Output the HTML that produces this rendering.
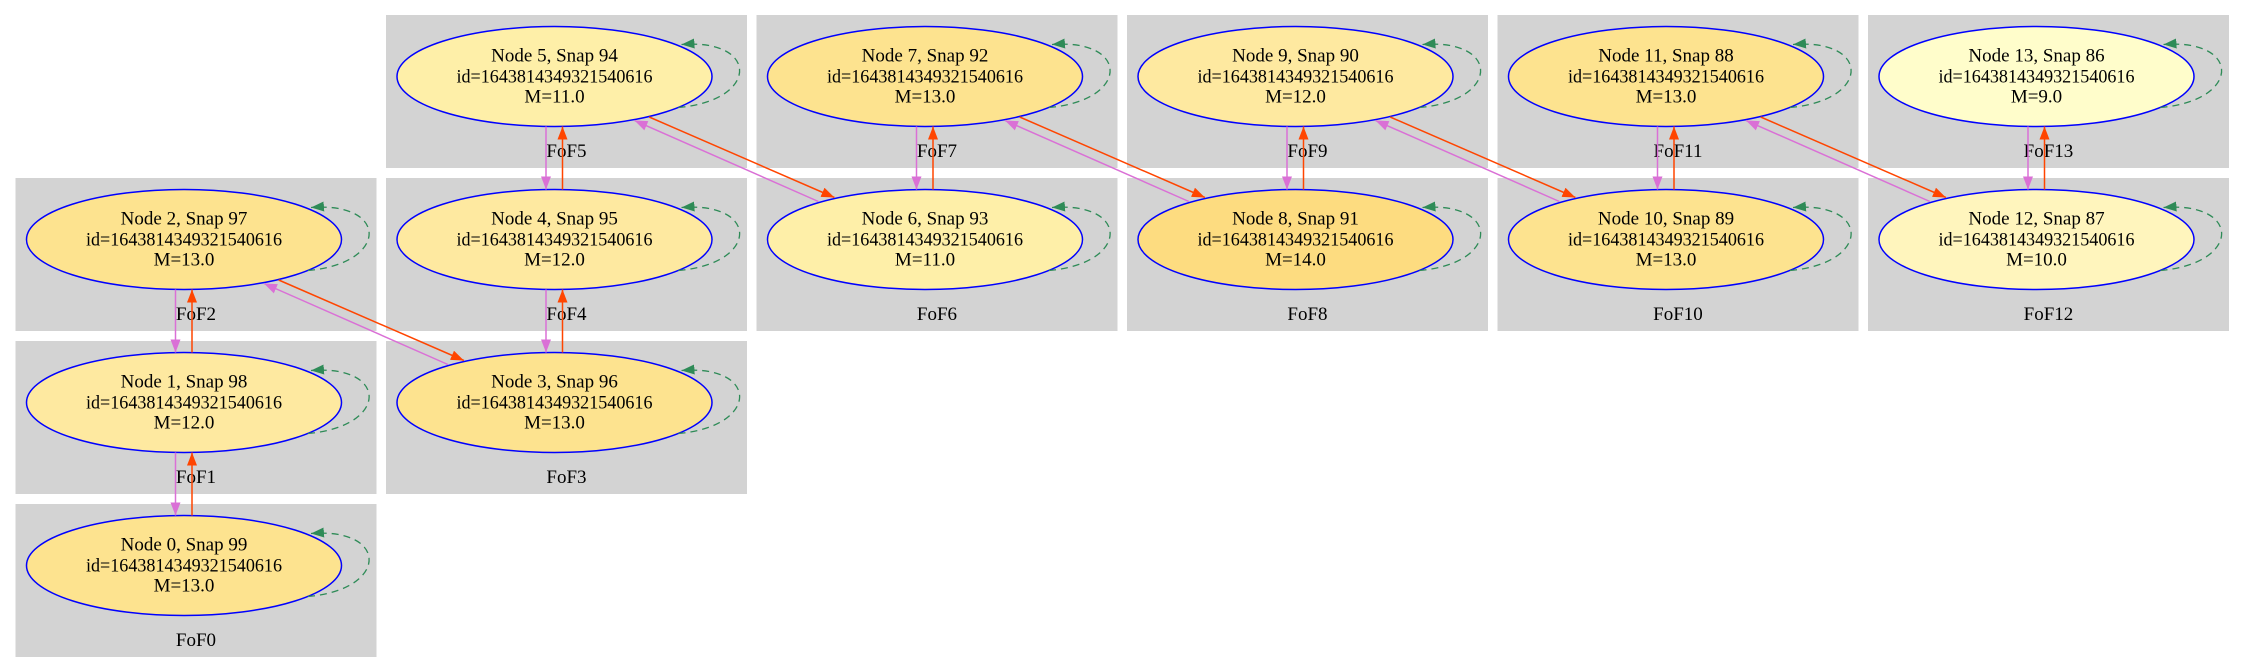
<!DOCTYPE html>
<html><head><meta charset="utf-8"><style>
html,body{margin:0;padding:0;background:#fff;}
svg{display:block;}
text{font-family:"Liberation Serif",serif;font-size:19px;fill:#000;text-anchor:middle;}
</style></head><body>
<svg width="2245" height="672" viewBox="0 0 2245 672" xmlns="http://www.w3.org/2000/svg">
<defs>
<marker id="ao" markerUnits="userSpaceOnUse" markerWidth="14" markerHeight="11" refX="13" refY="5" orient="auto"><path d="M0,0 L13,5 L0,10 z" fill="#ff4500"/></marker>
<marker id="ap" markerUnits="userSpaceOnUse" markerWidth="14" markerHeight="11" refX="13" refY="5" orient="auto"><path d="M0,0 L13,5 L0,10 z" fill="#da70d6"/></marker>
<marker id="ag" markerUnits="userSpaceOnUse" markerWidth="14" markerHeight="11" refX="13" refY="5" orient="auto"><path d="M0,0 L13,5 L0,10 z" fill="#2e8b57"/></marker>
<path id="loop" d="M124,31 C205,24 205,-38 127,-32" fill="none" stroke="#2e8b57" stroke-width="1.3" stroke-dasharray="7,5" marker-end="url(#ag)"/>
</defs>
<g fill="#d3d3d3">
<rect x="15.5" y="504" width="361" height="153"/>
<rect x="15.5" y="341" width="361" height="153"/>
<rect x="15.5" y="178" width="361" height="153"/>
<rect x="386" y="341" width="361" height="153"/>
<rect x="386" y="178" width="361" height="153"/>
<rect x="386" y="15" width="361" height="153"/>
<rect x="756.5" y="178" width="361" height="153"/>
<rect x="756.5" y="15" width="361" height="153"/>
<rect x="1127" y="178" width="361" height="153"/>
<rect x="1127" y="15" width="361" height="153"/>
<rect x="1497.5" y="178" width="361" height="153"/>
<rect x="1497.5" y="15" width="361" height="153"/>
<rect x="1868" y="178" width="361" height="153"/>
<rect x="1868" y="15" width="361" height="153"/>
</g>
<g>
<text x="196" y="646">FoF0</text>
<text x="196" y="483">FoF1</text>
<text x="196" y="320">FoF2</text>
<text x="566.5" y="483">FoF3</text>
<text x="566.5" y="320">FoF4</text>
<text x="566.5" y="157">FoF5</text>
<text x="937" y="320">FoF6</text>
<text x="937" y="157">FoF7</text>
<text x="1307.5" y="320">FoF8</text>
<text x="1307.5" y="157">FoF9</text>
<text x="1678" y="320">FoF10</text>
<text x="1678" y="157">FoF11</text>
<text x="2048.5" y="320">FoF12</text>
<text x="2048.5" y="157">FoF13</text>
</g>
<g stroke="#0000ff" stroke-width="1.5">
<ellipse cx="184" cy="565.5" rx="157.5" ry="50" fill="#fde38f"/>
<ellipse cx="184" cy="402.5" rx="157.5" ry="50" fill="#fee9a0"/>
<ellipse cx="184" cy="239.5" rx="157.5" ry="50" fill="#fde38f"/>
<ellipse cx="554.5" cy="402.5" rx="157.5" ry="50" fill="#fde38f"/>
<ellipse cx="554.5" cy="239.5" rx="157.5" ry="50" fill="#fee9a0"/>
<ellipse cx="554.5" cy="76.5" rx="157.5" ry="50" fill="#feefa8"/>
<ellipse cx="925" cy="239.5" rx="157.5" ry="50" fill="#feefa8"/>
<ellipse cx="925" cy="76.5" rx="157.5" ry="50" fill="#fde38f"/>
<ellipse cx="1295.5" cy="239.5" rx="157.5" ry="50" fill="#fddc80"/>
<ellipse cx="1295.5" cy="76.5" rx="157.5" ry="50" fill="#fee9a0"/>
<ellipse cx="1666" cy="239.5" rx="157.5" ry="50" fill="#fde38f"/>
<ellipse cx="1666" cy="76.5" rx="157.5" ry="50" fill="#fde38f"/>
<ellipse cx="2036.5" cy="239.5" rx="157.5" ry="50" fill="#fff5bd"/>
<ellipse cx="2036.5" cy="76.5" rx="157.5" ry="50" fill="#fffdcb"/>
</g>
<use href="#loop" x="184" y="565.5"/>
<use href="#loop" x="184" y="402.5"/>
<use href="#loop" x="184" y="239.5"/>
<use href="#loop" x="554.5" y="402.5"/>
<use href="#loop" x="554.5" y="239.5"/>
<use href="#loop" x="554.5" y="76.5"/>
<use href="#loop" x="925" y="239.5"/>
<use href="#loop" x="925" y="76.5"/>
<use href="#loop" x="1295.5" y="239.5"/>
<use href="#loop" x="1295.5" y="76.5"/>
<use href="#loop" x="1666" y="239.5"/>
<use href="#loop" x="1666" y="76.5"/>
<use href="#loop" x="2036.5" y="239.5"/>
<use href="#loop" x="2036.5" y="76.5"/>
<g stroke-width="1.5" fill="none">
<line x1="175.5" y1="452.5" x2="175.5" y2="515.5" stroke="#da70d6" marker-end="url(#ap)"/>
<line x1="192" y1="515.5" x2="192" y2="452.5" stroke="#ff4500" marker-end="url(#ao)"/>
<line x1="175.5" y1="289.5" x2="175.5" y2="352.5" stroke="#da70d6" marker-end="url(#ap)"/>
<line x1="192" y1="352.5" x2="192" y2="289.5" stroke="#ff4500" marker-end="url(#ao)"/>
<line x1="546" y1="289.5" x2="546" y2="352.5" stroke="#da70d6" marker-end="url(#ap)"/>
<line x1="562.5" y1="352.5" x2="562.5" y2="289.5" stroke="#ff4500" marker-end="url(#ao)"/>
<line x1="546" y1="126.5" x2="546" y2="189.5" stroke="#da70d6" marker-end="url(#ap)"/>
<line x1="562.5" y1="189.5" x2="562.5" y2="126.5" stroke="#ff4500" marker-end="url(#ao)"/>
<line x1="916.5" y1="126.5" x2="916.5" y2="189.5" stroke="#da70d6" marker-end="url(#ap)"/>
<line x1="933" y1="189.5" x2="933" y2="126.5" stroke="#ff4500" marker-end="url(#ao)"/>
<line x1="1287" y1="126.5" x2="1287" y2="189.5" stroke="#da70d6" marker-end="url(#ap)"/>
<line x1="1303.5" y1="189.5" x2="1303.5" y2="126.5" stroke="#ff4500" marker-end="url(#ao)"/>
<line x1="1657.5" y1="126.5" x2="1657.5" y2="189.5" stroke="#da70d6" marker-end="url(#ap)"/>
<line x1="1674" y1="189.5" x2="1674" y2="126.5" stroke="#ff4500" marker-end="url(#ao)"/>
<line x1="2028" y1="126.5" x2="2028" y2="189.5" stroke="#da70d6" marker-end="url(#ap)"/>
<line x1="2044.5" y1="189.5" x2="2044.5" y2="126.5" stroke="#ff4500" marker-end="url(#ao)"/>

<line x1="278.7" y1="280" x2="463.9" y2="360.5" stroke="#ff4500" marker-end="url(#ao)"/>
<line x1="447.9" y1="364.5" x2="264" y2="283.5" stroke="#da70d6" marker-end="url(#ap)"/>
<line x1="649.2" y1="117" x2="834.4" y2="197.5" stroke="#ff4500" marker-end="url(#ao)"/>
<line x1="818.4" y1="201.5" x2="634.5" y2="120.5" stroke="#da70d6" marker-end="url(#ap)"/>
<line x1="1019.7" y1="117" x2="1204.9" y2="197.5" stroke="#ff4500" marker-end="url(#ao)"/>
<line x1="1188.9" y1="201.5" x2="1005" y2="120.5" stroke="#da70d6" marker-end="url(#ap)"/>
<line x1="1390.2" y1="117" x2="1575.4" y2="197.5" stroke="#ff4500" marker-end="url(#ao)"/>
<line x1="1559.4" y1="201.5" x2="1375.5" y2="120.5" stroke="#da70d6" marker-end="url(#ap)"/>
<line x1="1760.7" y1="117" x2="1945.9" y2="197.5" stroke="#ff4500" marker-end="url(#ao)"/>
<line x1="1929.9" y1="201.5" x2="1746" y2="120.5" stroke="#da70d6" marker-end="url(#ap)"/>
</g>
<g>
<text x="184" y="550.5">Node 0, Snap 99</text><text x="184" y="571.5" textLength="196" lengthAdjust="spacingAndGlyphs">id=1643814349321540616</text><text x="184" y="591.5">M=13.0</text>
<text x="184" y="387.5">Node 1, Snap 98</text><text x="184" y="408.5" textLength="196" lengthAdjust="spacingAndGlyphs">id=1643814349321540616</text><text x="184" y="428.5">M=12.0</text>
<text x="184" y="224.5">Node 2, Snap 97</text><text x="184" y="245.5" textLength="196" lengthAdjust="spacingAndGlyphs">id=1643814349321540616</text><text x="184" y="265.5">M=13.0</text>
<text x="554.5" y="387.5">Node 3, Snap 96</text><text x="554.5" y="408.5" textLength="196" lengthAdjust="spacingAndGlyphs">id=1643814349321540616</text><text x="554.5" y="428.5">M=13.0</text>
<text x="554.5" y="224.5">Node 4, Snap 95</text><text x="554.5" y="245.5" textLength="196" lengthAdjust="spacingAndGlyphs">id=1643814349321540616</text><text x="554.5" y="265.5">M=12.0</text>
<text x="554.5" y="61.5">Node 5, Snap 94</text><text x="554.5" y="82.5" textLength="196" lengthAdjust="spacingAndGlyphs">id=1643814349321540616</text><text x="554.5" y="102.5">M=11.0</text>
<text x="925" y="224.5">Node 6, Snap 93</text><text x="925" y="245.5" textLength="196" lengthAdjust="spacingAndGlyphs">id=1643814349321540616</text><text x="925" y="265.5">M=11.0</text>
<text x="925" y="61.5">Node 7, Snap 92</text><text x="925" y="82.5" textLength="196" lengthAdjust="spacingAndGlyphs">id=1643814349321540616</text><text x="925" y="102.5">M=13.0</text>
<text x="1295.5" y="224.5">Node 8, Snap 91</text><text x="1295.5" y="245.5" textLength="196" lengthAdjust="spacingAndGlyphs">id=1643814349321540616</text><text x="1295.5" y="265.5">M=14.0</text>
<text x="1295.5" y="61.5">Node 9, Snap 90</text><text x="1295.5" y="82.5" textLength="196" lengthAdjust="spacingAndGlyphs">id=1643814349321540616</text><text x="1295.5" y="102.5">M=12.0</text>
<text x="1666" y="224.5">Node 10, Snap 89</text><text x="1666" y="245.5" textLength="196" lengthAdjust="spacingAndGlyphs">id=1643814349321540616</text><text x="1666" y="265.5">M=13.0</text>
<text x="1666" y="61.5">Node 11, Snap 88</text><text x="1666" y="82.5" textLength="196" lengthAdjust="spacingAndGlyphs">id=1643814349321540616</text><text x="1666" y="102.5">M=13.0</text>
<text x="2036.5" y="224.5">Node 12, Snap 87</text><text x="2036.5" y="245.5" textLength="196" lengthAdjust="spacingAndGlyphs">id=1643814349321540616</text><text x="2036.5" y="265.5">M=10.0</text>
<text x="2036.5" y="61.5">Node 13, Snap 86</text><text x="2036.5" y="82.5" textLength="196" lengthAdjust="spacingAndGlyphs">id=1643814349321540616</text><text x="2036.5" y="102.5">M=9.0</text>
</g>
</svg>
</body></html>
